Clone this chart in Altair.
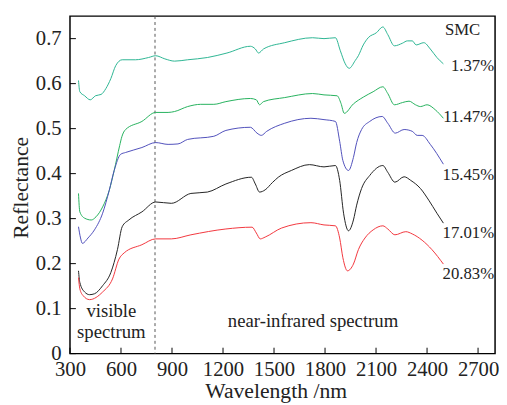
import altair as alt
import pandas as pd

# ---------------- data ----------------
smc_labels = ["1.37%", "11.47%", "15.45%", "17.01%", "20.83%"]
line_colors = ["#2bb592", "#24b05c", "#4f4fbb", "#222222", "#f2353c"]

wl_137 = [350, 358, 386, 419, 450, 483, 511, 540, 569, 607, 685, 762, 804, 858, 915, 992, 1108, 1223,
          1361, 1390, 1409, 1438, 1563, 1727, 1794, 1861, 1890, 1919, 1942, 1977, 1996, 2025, 2054,
          2102, 2140, 2169, 2208, 2256, 2284, 2313, 2336, 2381, 2419, 2458, 2496]
r_137 = [0.607, 0.582, 0.573, 0.564, 0.573, 0.576, 0.589, 0.611, 0.640, 0.653, 0.653, 0.658, 0.662,
         0.655, 0.650, 0.653, 0.658, 0.668, 0.683, 0.677, 0.668, 0.677, 0.691, 0.702, 0.700, 0.702,
         0.673, 0.644, 0.634, 0.651, 0.662, 0.686, 0.702, 0.713, 0.726, 0.709, 0.684, 0.690, 0.695,
         0.695, 0.686, 0.691, 0.677, 0.658, 0.644]

wl_1147 = [350, 358, 386, 425, 453, 492, 531, 560, 592, 605, 627, 723, 804, 877, 915, 992, 1069, 1146,
           1217, 1361, 1396, 1415, 1438, 1563, 1727, 1794, 1871, 1894, 1913, 1967, 2025, 2083, 2140,
           2169, 2208, 2256, 2294, 2332, 2361, 2400, 2448, 2496]
r_1147 = [0.356, 0.315, 0.301, 0.297, 0.304, 0.326, 0.363, 0.407, 0.462, 0.482, 0.498, 0.516, 0.536,
          0.536, 0.538, 0.549, 0.554, 0.554, 0.560, 0.567, 0.564, 0.553, 0.560, 0.569, 0.578, 0.575,
          0.573, 0.556, 0.534, 0.555, 0.570, 0.582, 0.593, 0.578, 0.553, 0.558, 0.561, 0.553, 0.549,
          0.553, 0.542, 0.523]

wl_1545 = [350, 362, 373, 406, 444, 492, 531, 560, 598, 627, 723, 804, 877, 935, 992, 1146, 1217, 1361,
           1400, 1425, 1457, 1563, 1717, 1794, 1861, 1886, 1905, 1938, 1967, 1986, 2015, 2063, 2136,
           2169, 2213, 2265, 2313, 2342, 2371, 2419, 2496]
r_1545 = [0.282, 0.257, 0.245, 0.257, 0.275, 0.312, 0.363, 0.407, 0.443, 0.447, 0.458, 0.469, 0.465,
          0.466, 0.476, 0.483, 0.496, 0.503, 0.490, 0.485, 0.494, 0.512, 0.523, 0.520, 0.516, 0.472,
          0.429, 0.407, 0.436, 0.469, 0.498, 0.516, 0.527, 0.512, 0.490, 0.498, 0.494, 0.485, 0.485,
          0.465, 0.421]

wl_1701 = [350, 358, 386, 415, 444, 492, 540, 579, 607, 646, 723, 804, 896, 1011, 1108, 1217, 1367,
           1390, 1415, 1448, 1490, 1525, 1602, 1708, 1794, 1861, 1886, 1909, 1938, 1967, 1986, 2015,
           2063, 2140, 2169, 2211, 2265, 2304, 2361, 2410, 2458, 2496]
r_1701 = [0.184, 0.158, 0.137, 0.131, 0.133, 0.151, 0.180, 0.231, 0.282, 0.297, 0.315, 0.337, 0.334,
          0.356, 0.359, 0.377, 0.392, 0.377, 0.359, 0.364, 0.380, 0.392, 0.407, 0.420, 0.415, 0.418,
          0.385, 0.312, 0.273, 0.297, 0.330, 0.367, 0.396, 0.418, 0.403, 0.381, 0.393, 0.385, 0.367,
          0.341, 0.312, 0.290]

wl_2083 = [350, 358, 377, 415, 492, 550, 588, 619, 723, 804, 896, 1011, 1217, 1371, 1396, 1419, 1448,
           1544, 1717, 1794, 1861, 1886, 1905, 1932, 1967, 1996, 2035, 2083, 2140, 2169, 2211, 2275,
           2313, 2371, 2429, 2496]
r_2083 = [0.169, 0.144, 0.129, 0.120, 0.137, 0.166, 0.210, 0.224, 0.242, 0.255, 0.255, 0.264, 0.277,
          0.281, 0.268, 0.255, 0.259, 0.279, 0.291, 0.286, 0.284, 0.257, 0.213, 0.184, 0.199, 0.231,
          0.257, 0.275, 0.284, 0.277, 0.264, 0.271, 0.266, 0.252, 0.231, 0.199]

x_ticks = [300, 600, 900, 1200, 1500, 1800, 2100, 2400, 2700]
y_ticks = [0, 0.1, 0.2, 0.3, 0.4, 0.5, 0.6, 0.7]
divider_wl = [800]

# ---------------- build ----------------
series = [wl_137, wl_1147, wl_1545, wl_1701, wl_2083]
values = [r_137, r_1147, r_1545, r_1701, r_2083]
rows = []
for lab, ws, rs in zip(smc_labels, series, values):
    for w, v in zip(ws, rs):
        rows.append({"wl": w, "r": v, "smc": lab})
df = pd.DataFrame(rows)

W, H = 432, 343
FONT = "'Liberation Serif', 'DejaVu Serif', serif"
TXT = "#222222"

x_scale = alt.Scale(domain=[300, 2800], nice=False, zero=False)
y_scale = alt.Scale(domain=[0, 0.75], nice=False, zero=False)

lines = alt.Chart(df).mark_line(strokeWidth=1, interpolate="monotone").encode(
    x=alt.X("wl:Q", scale=x_scale,
            axis=alt.Axis(title="Wavelength /nm", values=x_ticks, format="d", labelPadding=5,
                          labelFlush=False, labelOverlap=False,
                          titleX=209, titleY=45, titleBaseline="alphabetic",
                          titleAnchor="middle")),
    y=alt.Y("r:Q", scale=y_scale,
            axis=alt.Axis(title="Reflectance", values=y_ticks, format="~g", labelPadding=9,
                          labelFlush=False, labelOverlap=False,
                          titleAngle=-90, titleX=-43, titleY=174, titleBaseline="alphabetic",
                          titleAlign="center")),
    color=alt.Color("smc:N", scale=alt.Scale(domain=smc_labels, range=line_colors), legend=None),
)

divider = alt.Chart(pd.DataFrame({"wl": divider_wl})).mark_rule(
    color="#555555", strokeWidth=1, strokeDash=[3, 3]
).encode(x=alt.X("wl:Q", scale=x_scale))

yt = alt.Chart(pd.DataFrame({"r": y_ticks})).mark_rule(color="black", strokeWidth=1).encode(
    y=alt.Y("r:Q", scale=y_scale), x=alt.value(0), x2=alt.value(6))

xt = alt.Chart(pd.DataFrame({"wl": x_ticks})).mark_rule(color="black", strokeWidth=1).encode(
    x=alt.X("wl:Q", scale=x_scale), y=alt.value(H), y2=alt.value(H - 6))


def label(text, px, py, size, align="center"):
    return alt.Chart(pd.DataFrame({"a": [0]})).mark_text(
        font=FONT, fontSize=size, color=TXT, align=align, baseline="middle"
    ).encode(x=alt.value(px), y=alt.value(py), text=alt.value(text))


label_y = [51, 103, 162, 220, 262]
texts = [label(t, 431, yy, 17, "right") for t, yy in zip(smc_labels, label_y)]
texts += [
    label("SMC", 399, 14, 17),
    label("visible", 42, 300, 19),
    label("spectrum", 42, 321, 19),
    label("near-infrared spectrum", 247, 310, 19),
]

chart = alt.layer(divider, lines, yt, xt, *texts).properties(
    width=W, height=H,
    padding={"left": 63, "top": 5, "right": 4, "bottom": 52},
    autosize=alt.AutoSizeParams(type="none"),
).configure_view(
    stroke="black", strokeWidth=1.5
).configure_axis(
    grid=False, domain=False, ticks=False,
    labelFont=FONT, titleFont=FONT, labelFontSize=21, titleFontSize=22,
    labelColor=TXT, titleColor=TXT, titleFontWeight="normal",
)

chart.save("out.html", embed_options={"renderer": "svg", "actions": False})
